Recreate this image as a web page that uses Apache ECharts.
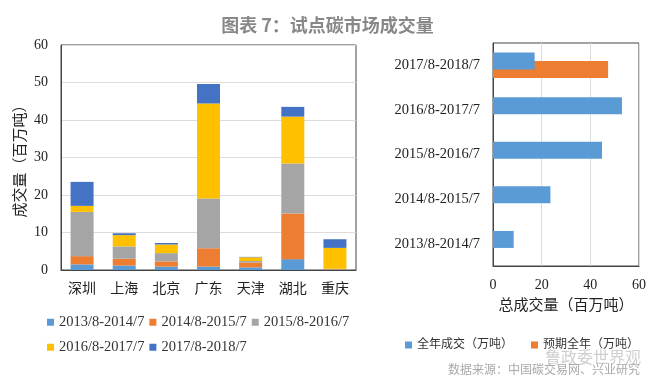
<!DOCTYPE html>
<html><head><meta charset="utf-8">
<script src="https://cdn.jsdelivr.net/npm/echarts@6/dist/echarts.min.js"></script>
<style>html,body{margin:0;padding:0;background:#fff;}#c{width:655px;height:383px;}</style>
</head><body><div id="c"></div>
<script>
const cities = ['深圳','上海','北京','广东','天津','湖北','重庆'];
const periods = ['2013/8-2014/7','2014/8-2015/7','2015/8-2016/7','2016/8-2017/7','2017/8-2018/7'];
const s2013 = [1.5, 1.2, 0.9, 0.9, 0.7, 2.9, 0.1];
const s2014 = [2.2, 1.8, 1.4, 4.9, 1.3, 12.2, 0.1];
const s2015 = [11.8, 3.3, 2.2, 13.3, 0.4, 13.3, 0.1];
const s2016 = [1.6, 3.0, 2.3, 25.3, 1.0, 12.5, 5.6];
const s2017 = [6.4, 0.5, 0.4, 5.2, 0.1, 2.6, 2.3];
const fullYear = [8.5, 23.6, 44.8, 53.0, 17.1];
const expectedYear = [null, null, null, null, 47.3];
const rightNames = ['全年成交（万吨）','预期全年（万吨）'];
const leftTicks = [0,10,20,30,40,50,60];
const rightTicks = [0,20,40,60];

const stackColors = ['#5B9BD5','#ED7D31','#A5A5A5','#FFC000','#4472C4'];
const FF = 'Liberation Serif, "Noto Sans CJK SC", serif';
const stackData = [s2013, s2014, s2015, s2016, s2017];

const chart = echarts.init(document.getElementById('c'), null, {renderer:'canvas'});
const leftSeries = stackData.map((d,i)=>({
  name: periods[i], type:'bar', stack:'total', xAxisIndex:0, yAxisIndex:0,
  data:d, barWidth:23, itemStyle:{color:stackColors[i]}
}));
chart.setOption({
  animation:false,
  title:{text:'图表 7：试点碳市场成交量', left:'center', top:11,
    textStyle:{fontFamily:'"Noto Sans CJK SC"', fontSize:18, fontWeight:'bold', color:'#888'}},
  grid:[
    {left:61, top:45, width:295, height:225, show:true, borderColor:'#444', borderWidth:1, containLabel:false},
    {left:493, top:43, width:146, height:223, show:true, borderColor:'#444', borderWidth:1, containLabel:false}
  ],
  legend:[
    {data:periods.slice(0,3), left:47, top:315, padding:0, icon:'rect', itemWidth:7, itemHeight:7, itemGap:5,
      textStyle:{fontFamily:FF, fontSize:14.5, color:'#333'}},
    {data:periods.slice(3), left:47, top:340, padding:0, icon:'rect', itemWidth:7, itemHeight:7, itemGap:5,
      textStyle:{fontFamily:FF, fontSize:14.5, color:'#333'}},
    {data:rightNames, left:405, top:339, padding:0, icon:'rect', itemWidth:7, itemHeight:7, itemGap:18,
      textStyle:{fontFamily:FF, fontSize:12, color:'#333'}}
  ],
  xAxis:[
    {type:'category', gridIndex:0, data:cities,
      axisLine:{lineStyle:{color:'#444'}}, axisTick:{show:false},
      axisLabel:{fontFamily:FF, fontSize:14, color:'#222', margin:12}},
    {type:'value', gridIndex:1, min:0, max:60, interval:20,
      name:'总成交量（百万吨）', nameLocation:'middle', nameGap:33,
      nameTextStyle:{fontFamily:FF, fontSize:15, color:'#222'},
      axisLine:{show:true, lineStyle:{color:'#444'}}, axisTick:{show:false},
      splitLine:{lineStyle:{color:'#dcdcdc'}},
      axisLabel:{fontFamily:FF, fontSize:14, color:'#222', margin:12}}
  ],
  yAxis:[
    {type:'value', gridIndex:0, min:0, max:60, interval:10,
      name:'成交量（百万吨）', nameLocation:'middle', nameRotate:90, nameGap:32,
      nameTextStyle:{fontFamily:FF, fontSize:15, color:'#222'},
      axisLine:{show:true, lineStyle:{color:'#444'}}, axisTick:{show:false},
      splitLine:{lineStyle:{color:'#dcdcdc'}},
      axisLabel:{fontFamily:FF, fontSize:14, color:'#222', margin:13}},
    {type:'category', gridIndex:1, data:periods,
      axisLine:{lineStyle:{color:'#444'}}, axisTick:{show:false},
      axisLabel:{fontFamily:FF, fontSize:14.5, color:'#222', margin:13}}
  ],
  series: leftSeries.concat([
    {name:rightNames[0], type:'bar', xAxisIndex:1, yAxisIndex:1, data:fullYear,
      barWidth:17, barGap:'-50%', z:3, itemStyle:{color:'#5B9BD5'}},
    {name:rightNames[1], type:'bar', xAxisIndex:1, yAxisIndex:1, data:expectedYear,
      barWidth:17, barGap:'-50%', z:2, itemStyle:{color:'#ED7D31'}}
  ]),
  graphic:[
    {type:'text', left:545, top:349, style:{text:'鲁政委世界观', fontFamily:'"Noto Sans CJK SC"', fontSize:16, fill:'#cfcfcf'}},
    {type:'text', left:448, top:363, style:{text:'数据来源：中国碳交易网、兴业研究', fontFamily:'"Noto Sans CJK SC"', fontSize:12, fill:'#aaaaaa'}}
  ]
});
</script></body></html>
